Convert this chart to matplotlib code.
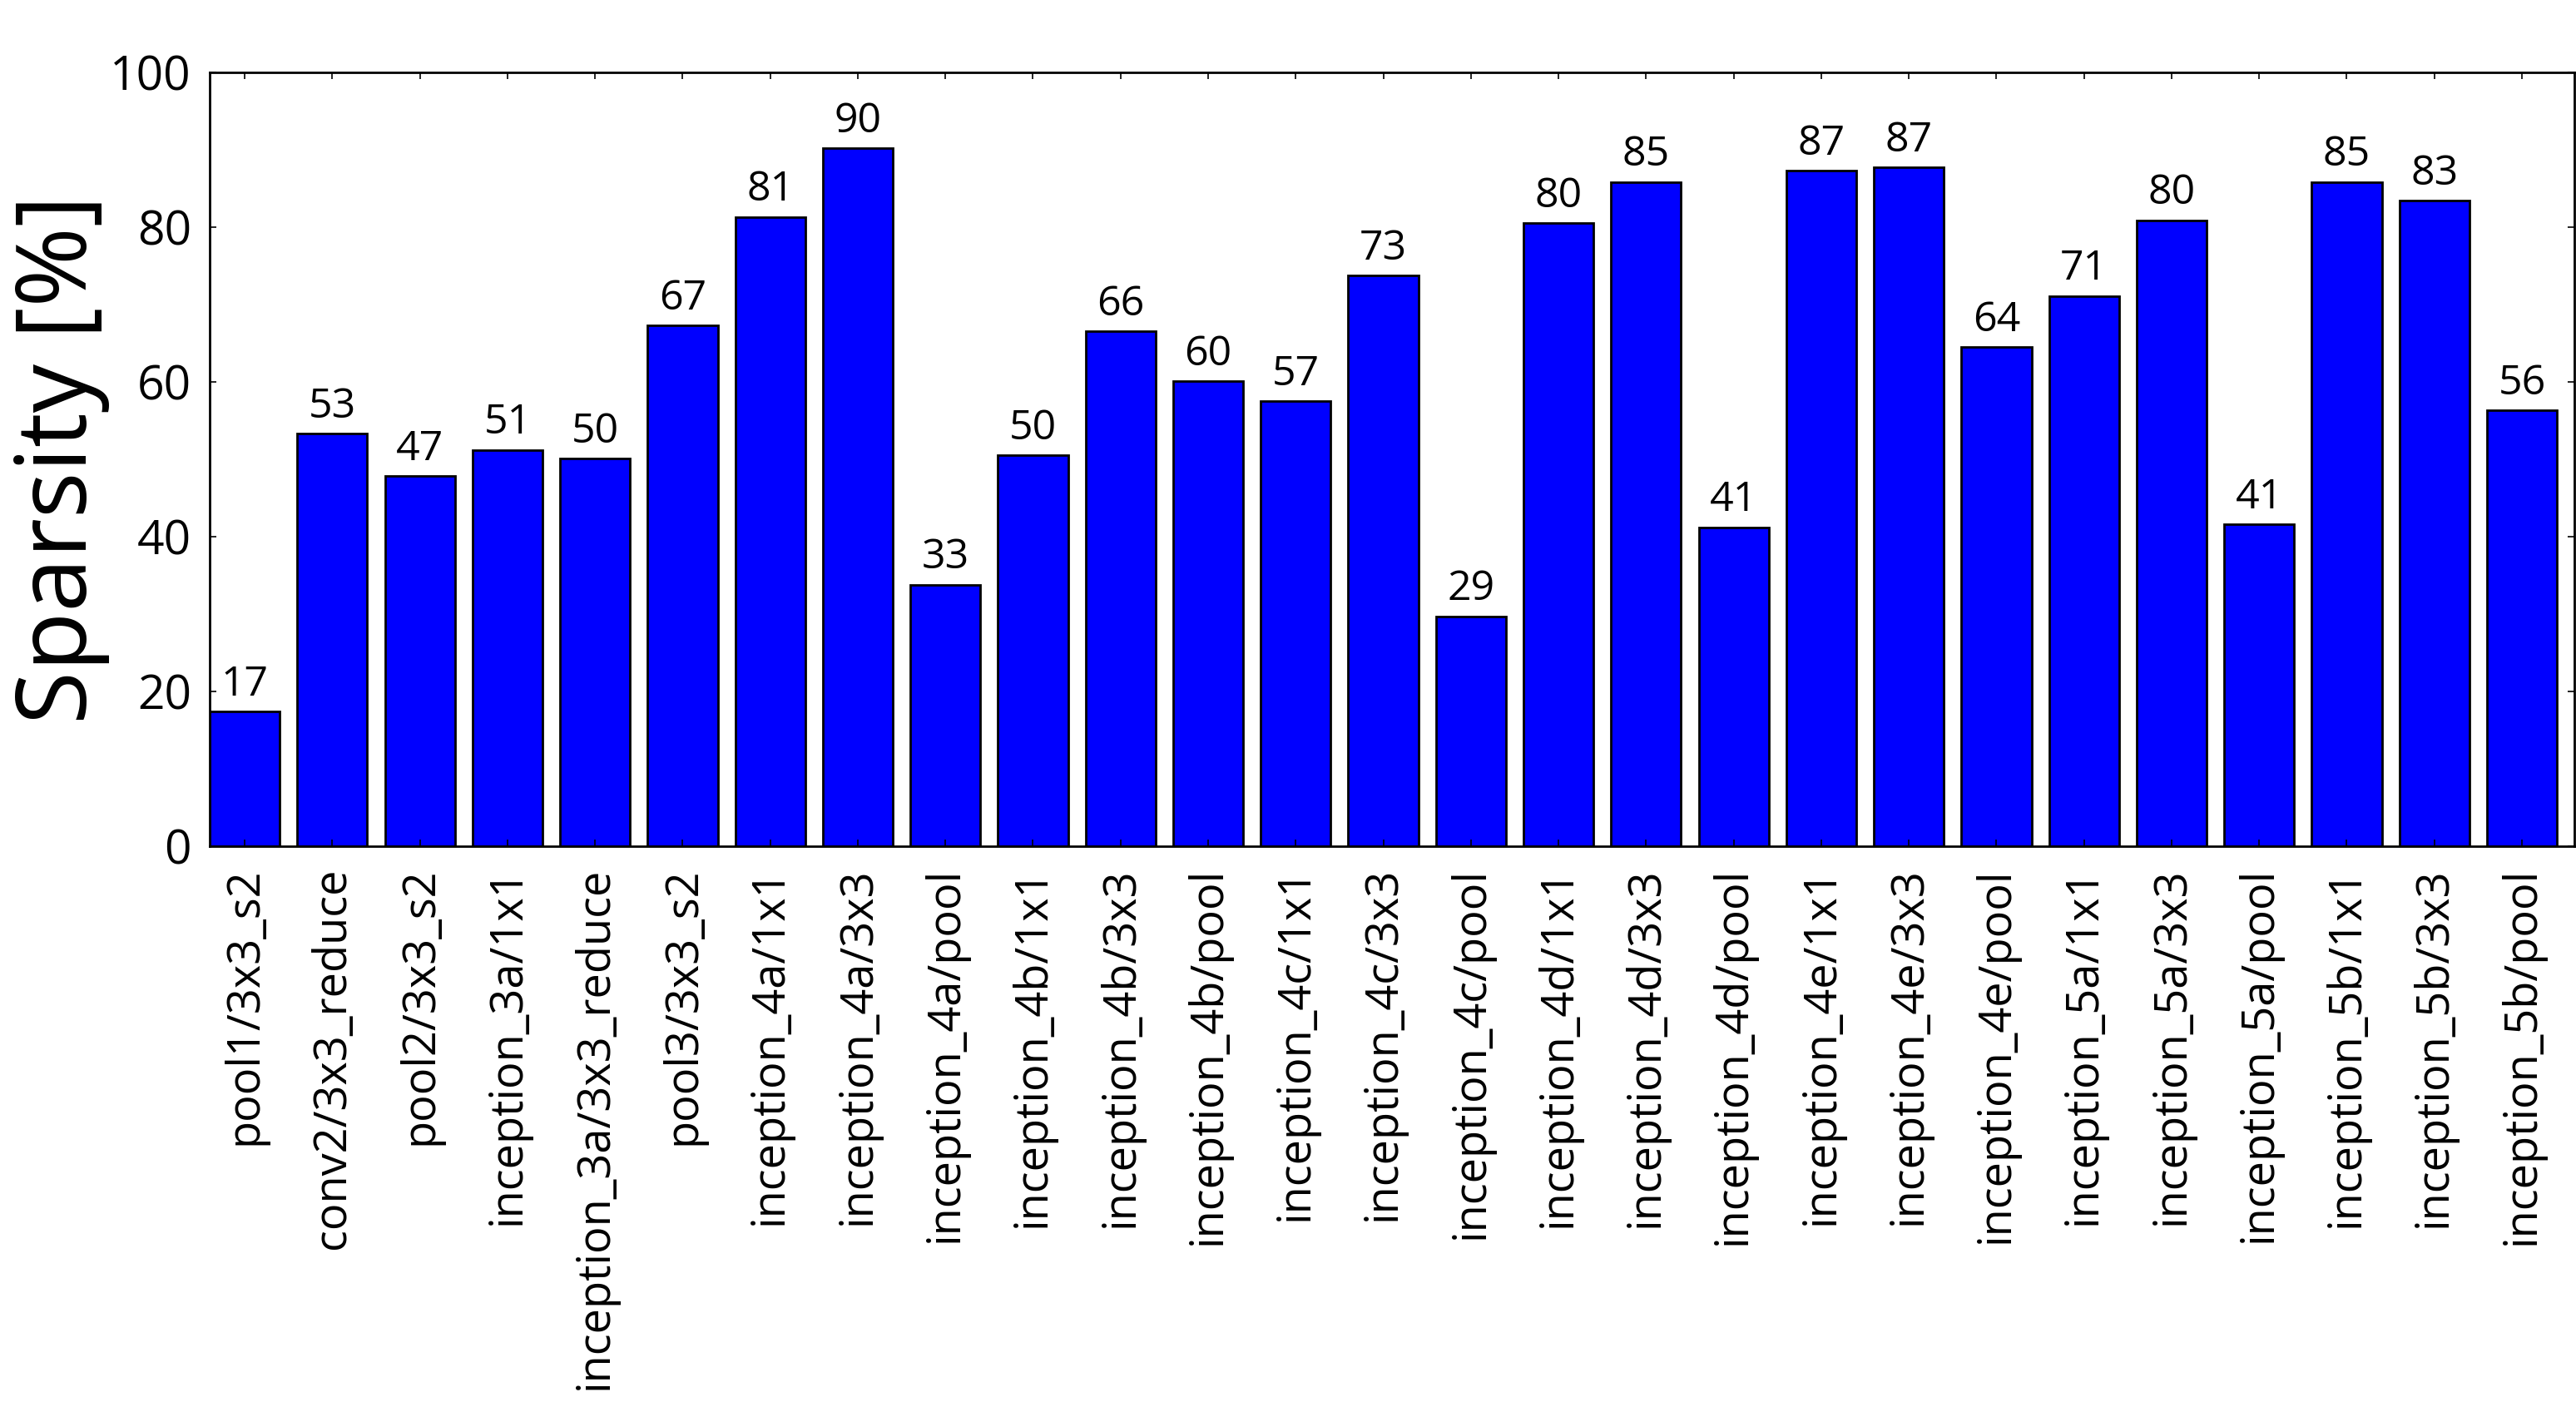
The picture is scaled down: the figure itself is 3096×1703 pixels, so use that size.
import matplotlib
matplotlib.use("Agg")
import matplotlib.pyplot as plt
import numpy as np

layers = [
    "pool1/3x3_s2", "conv2/3x3_reduce", "pool2/3x3_s2", "inception_3a/1x1",
    "inception_3a/3x3_reduce", "pool3/3x3_s2", "inception_4a/1x1",
    "inception_4a/3x3", "inception_4a/pool", "inception_4b/1x1",
    "inception_4b/3x3", "inception_4b/pool", "inception_4c/1x1",
    "inception_4c/3x3", "inception_4c/pool", "inception_4d/1x1",
    "inception_4d/3x3", "inception_4d/pool", "inception_4e/1x1",
    "inception_4e/3x3", "inception_4e/pool", "inception_5a/1x1",
    "inception_5a/3x3", "inception_5a/pool", "inception_5b/1x1",
    "inception_5b/3x3", "inception_5b/pool",
]
sparsity = [
    17.4, 53.3, 47.8, 51.2, 50.1, 67.3, 81.3, 90.2, 33.8, 50.5, 66.5, 60.1,
    57.5, 73.7, 29.7, 80.5, 85.8, 41.2, 87.3, 87.7, 64.5, 71.1, 80.9, 41.6,
    85.8, 83.4, 56.3,
]
y_ticks = [0, 20, 40, 60, 80, 100]

plt.rcParams['font.family'] = ['Open Sans', 'DejaVu Sans']

fig = plt.figure(figsize=(15.48, 8.515), dpi=200)
ax = fig.add_axes([0.0814, 0.4028, 0.918, 0.5462])

x = np.arange(len(layers))
ax.bar(x, sparsity, width=0.8, color='#0000ff', edgecolor='black', linewidth=1.0)

# value labels above each bar
for xi, val in zip(x, sparsity):
    ax.text(xi, val + 0.8, "%d" % int(val), ha='center', va='bottom', fontsize=18)

ax.set_xlim(-0.4, len(layers) - 0.4)
ax.set_ylim(0, 100)
ax.set_yticks(y_ticks)
ax.set_xticks(x)
ax.set_xticklabels(layers, rotation=90, fontsize=19.5)
ax.tick_params(axis='y', labelsize=20.5, pad=8)
ax.tick_params(axis='x', pad=9)
ax.tick_params(direction='in', length=3, width=0.6, top=True, right=True)
for s in ax.spines.values():
    s.set_linewidth(1.0)
ax.set_ylabel("Sparsity [%]", fontsize=42, labelpad=0)

fig.savefig("out.png", dpi=200)
